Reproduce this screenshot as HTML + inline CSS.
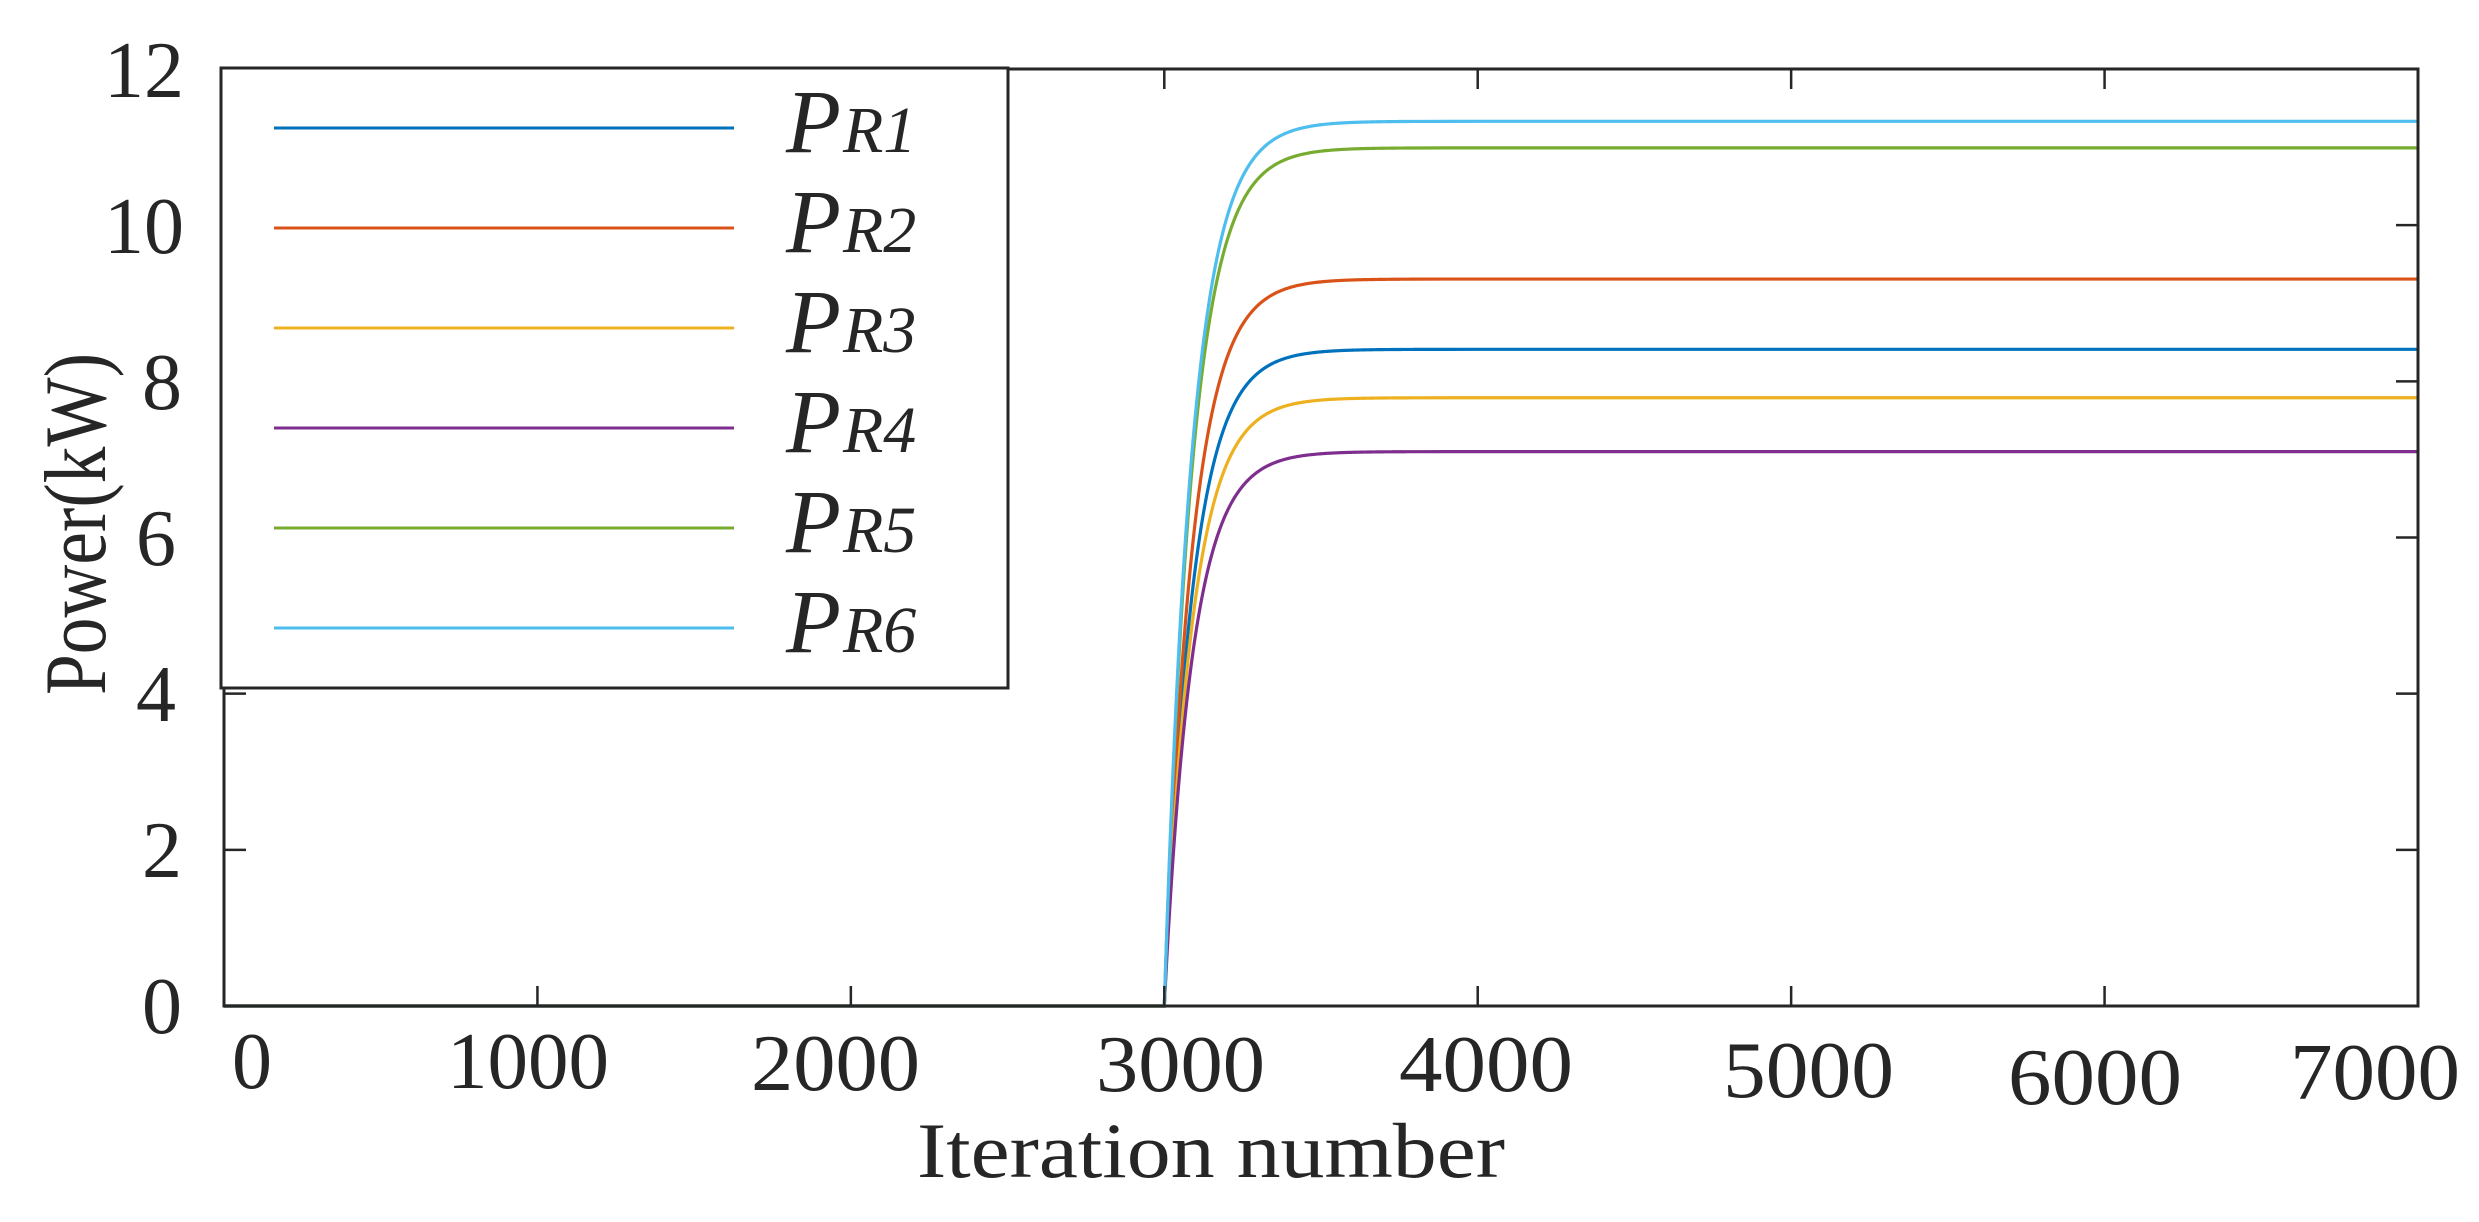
<!DOCTYPE html>
<html><head><meta charset="utf-8"><style>
html,body{margin:0;padding:0;background:#fff;}
svg{display:block;}
text{font-family:"Liberation Serif",serif;fill:#262626;}
</style></head><body>
<svg id="s" width="2479" height="1222" viewBox="0 0 2479 1222" xmlns="http://www.w3.org/2000/svg">
<rect width="2479" height="1222" fill="#fff"/>
<g id="curves" fill="none" stroke-width="3.2"></g>
<g stroke="#262626" stroke-width="3" fill="none">
<rect x="224" y="69" width="2194" height="937"/>
</g>
<g stroke="#262626" stroke-width="2.5" id="ticks"></g>
<g font-size="80" text-anchor="end">
<text x="182" y="1033">0</text>
<text x="182" y="877">2</text>
<text x="176" y="721">4</text>
<text x="176" y="565">6</text>
<text x="182" y="409">8</text>
<text x="184" y="253">10</text>
<text x="184" y="97">12</text>
</g>
<g font-size="80">
<text x="232" y="1088" textLength="40" lengthAdjust="spacingAndGlyphs">0</text>
<text x="447" y="1088" textLength="162" lengthAdjust="spacingAndGlyphs">1000</text>
<text x="751" y="1090" textLength="169" lengthAdjust="spacingAndGlyphs">2000</text>
<text x="1096" y="1091" textLength="169" lengthAdjust="spacingAndGlyphs">3000</text>
<text x="1399" y="1091" textLength="174" lengthAdjust="spacingAndGlyphs">4000</text>
<text x="1723" y="1097" textLength="171" lengthAdjust="spacingAndGlyphs">5000</text>
<text x="2008" y="1104" textLength="174" lengthAdjust="spacingAndGlyphs">6000</text>
<text x="2290" y="1099" textLength="170" lengthAdjust="spacingAndGlyphs">7000</text>
</g>
<text x="917" y="1177" font-size="78" textLength="588" lengthAdjust="spacingAndGlyphs">Iteration number</text>
<text transform="translate(105,695) rotate(-90)" font-size="88" textLength="342" lengthAdjust="spacingAndGlyphs">Power(kW)</text>
<rect x="221" y="68" width="787" height="620" fill="#fff" stroke="#262626" stroke-width="3"/>
<g stroke-width="3">
<line x1="274" y1="128" x2="734" y2="128" stroke="#0072BD"/>
<line x1="274" y1="228" x2="734" y2="228" stroke="#D95319"/>
<line x1="274" y1="328" x2="734" y2="328" stroke="#EDB120"/>
<line x1="274" y1="428" x2="734" y2="428" stroke="#7E2F8E"/>
<line x1="274" y1="528" x2="734" y2="528" stroke="#77AC30"/>
<line x1="274" y1="628" x2="734" y2="628" stroke="#4DBEEE"/>
</g>
<g font-style="italic">
<text x="786" y="152" font-size="90">P<tspan font-size="66" dx="2">R1</tspan></text>
<text x="786" y="252" font-size="90">P<tspan font-size="66" dx="2">R2</tspan></text>
<text x="786" y="352" font-size="90">P<tspan font-size="66" dx="2">R3</tspan></text>
<text x="786" y="452" font-size="90">P<tspan font-size="66" dx="2">R4</tspan></text>
<text x="786" y="552" font-size="90">P<tspan font-size="66" dx="2">R5</tspan></text>
<text x="786" y="652" font-size="90">P<tspan font-size="66" dx="2">R6</tspan></text>
</g>
</svg>
<script>
(function(){
var NS="http://www.w3.org/2000/svg";
var X0=224,XS=2194/7000,Y0=1006,YS=937/12;
function px(i){return X0+i*XS;} function py(v){return Y0-v*YS;}
var ser=[["#0072BD",8.41],["#D95319",9.31],["#EDB120",7.79],["#7E2F8E",7.10],["#77AC30",10.99],["#4DBEEE",11.33]];
var g=document.getElementById("curves");
ser.forEach(function(s){
 var d="M"+px(0)+","+py(0)+" L"+px(3000)+","+py(0);
 for(var i=3000;i<=7000;i+=(i<3800?4:100)){
  var v=s[1]*(1-Math.exp(-(i-3000)/90));
  d+=" L"+px(i).toFixed(2)+","+py(v).toFixed(2);
 }
 var p=document.createElementNS(NS,"path");p.setAttribute("d",d);p.setAttribute("stroke",s[0]);g.appendChild(p);
});
var t=document.getElementById("ticks");
function ln(a,b,c,d){var l=document.createElementNS(NS,"line");l.setAttribute("x1",a);l.setAttribute("y1",b);l.setAttribute("x2",c);l.setAttribute("y2",d);t.appendChild(l);}
for(var k=0;k<=7;k++){var x=px(k*1000);ln(x,Y0,x,Y0-20);ln(x,69,x,89);}
for(var k=0;k<=12;k+=2){var y=py(k);ln(X0,y,X0+22,y);ln(2418,y,2396,y);}
})();
</script>
</body></html>
